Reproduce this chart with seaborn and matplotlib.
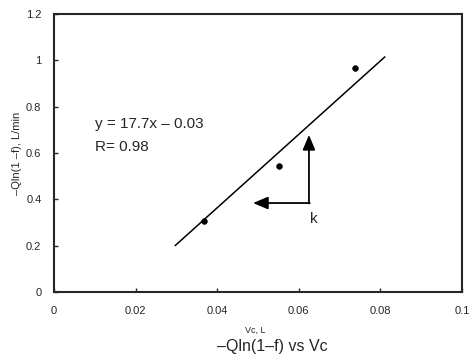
import matplotlib
matplotlib.use("Agg")
import matplotlib.pyplot as plt
import seaborn as sns
import pandas as pd

# measured points
vc = [0.0368, 0.0551, 0.0738]
qln = [0.307, 0.544, 0.968]

# fitted line end points
fit_x = [0.0297, 0.0811]
fit_y = [0.20, 1.015]

x_ticks = [0, 0.02, 0.04, 0.06, 0.08, 0.1]
x_labels = ["0", "0.02", "0.04", "0.06", "0.08", "0.1"]
y_ticks = [0, 0.2, 0.4, 0.6, 0.8, 1.0, 1.2]
y_labels = ["0", "0.2", "0.4", "0.6", "0.8", "1", "1.2"]

sns.set_style("ticks")
plt.rcParams["font.family"] = ["Liberation Sans", "DejaVu Sans"]

fig = plt.figure(figsize=(4.69, 3.6), dpi=100)
ax = fig.add_axes([0.115, 0.189, 0.87, 0.772])

pts = pd.DataFrame({"vc": vc, "qln": qln})
fit = pd.DataFrame({"x": fit_x, "y": fit_y})
sns.lineplot(data=fit, x="x", y="y", ax=ax, color="black", lw=1.1)
sns.scatterplot(data=pts, x="vc", y="qln", ax=ax, color="black", s=18,
                edgecolor="black", zorder=3)

# k arrows
head = "-|>,head_length=0.9,head_width=0.38"
ax.annotate("", xy=(0.0625, 0.678), xytext=(0.0625, 0.382),
            arrowprops=dict(arrowstyle=head, color="black", lw=1.3,
                            shrinkA=0, shrinkB=0))
ax.annotate("", xy=(0.0488, 0.384), xytext=(0.0627, 0.384),
            arrowprops=dict(arrowstyle=head, color="black", lw=1.3,
                            shrinkA=0, shrinkB=0))
ax.text(0.0637, 0.316, "k", fontsize=11, ha="center", va="center")

ax.text(0.010, 0.726, "y = 17.7x \u2013 0.03", fontsize=11, va="center")
ax.text(0.010, 0.628, "R= 0.98", fontsize=11, va="center")

ax.set_xlim(0, 0.1)
ax.set_ylim(0, 1.2)
ax.set_xticks(x_ticks)
ax.set_xticklabels(x_labels, fontsize=8)
ax.set_yticks(y_ticks)
ax.set_yticklabels(y_labels, fontsize=8)
ax.tick_params(axis="x", direction="in", length=3, width=1, pad=10)
ax.tick_params(axis="y", direction="in", length=3, width=1, pad=9)
for sp in ax.spines.values():
    sp.set_linewidth(1.5)
    sp.set_visible(True)

ax.set_xlabel("")
ax.set_ylabel("\u2013Qln(1 \u2013f), L/min", fontsize=8, labelpad=3)
fig.text(255 / 469, 1 - 330 / 360, "Vc, L", fontsize=6.5, ha="center", va="center")
fig.text(272 / 469, 1 - 346 / 360, "\u2013Qln(1\u2013f) vs Vc", fontsize=11.5,
         ha="center", va="center")

fig.savefig("out.png", dpi=100)
